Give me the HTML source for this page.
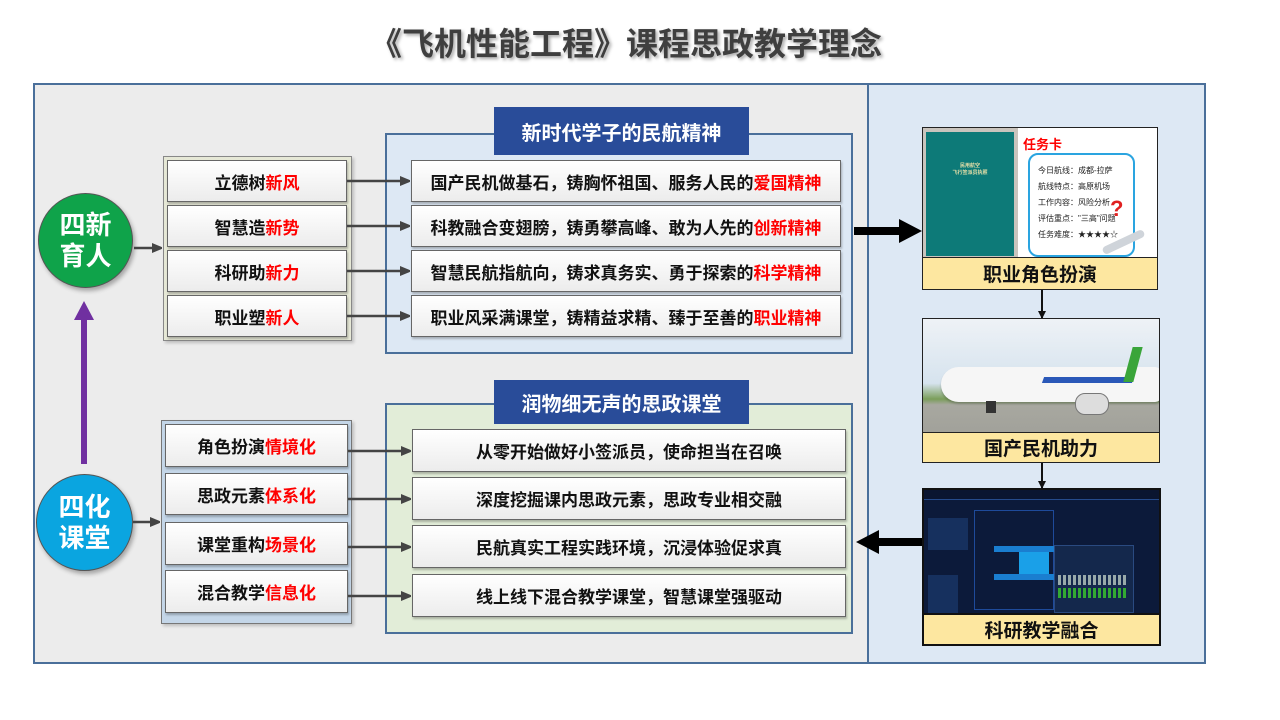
<!DOCTYPE html>
<html><head><meta charset="utf-8"><style>
*{margin:0;padding:0;box-sizing:border-box}
body{width:1280px;height:720px;background:#fff;position:relative;overflow:hidden;font-family:"Liberation Sans","Noto Sans CJK SC",sans-serif;font-weight:bold}
.a{position:absolute}
.title{left:0;width:1252px;top:19px;text-align:center;font-size:32px;color:#3f3f3f;text-shadow:2px 2px 3px #aaa}
.it{position:absolute;background:linear-gradient(#fff,#ececec);border:1px solid #666;box-shadow:1px 2px 2px rgba(0,0,0,.25);display:flex;align-items:center;justify-content:center;font-size:17px;color:#111}
.r{color:#f00}
.hd{position:absolute;background:#294c99;color:#fff;font-size:20px;display:flex;align-items:center;justify-content:center}
.cap{position:absolute;left:0;right:0;bottom:0;background:#fde7a0;border-top:1px solid #222;display:flex;align-items:center;justify-content:center;font-size:19px;color:#111}
.circ{position:absolute;border-radius:50%;border:1px solid #555;color:#fff;font-size:26px;line-height:31px;text-align:center;display:flex;align-items:center;justify-content:center;box-shadow:2px 3px 4px rgba(0,0,0,.3)}
</style></head><body>
<div class="a title">《飞机性能工程》课程思政教学理念</div>
<div class="a" style="left:33px;top:83px;width:836px;height:581px;background:#ececec;border:2px solid #4a6f9a"></div>
<div class="a" style="left:867px;top:83px;width:339px;height:581px;background:#dde8f4;border:2px solid #4a6f9a"></div>

<div class="a" style="left:163px;top:156px;width:189px;height:185px;background:#e6e8d6;border:1px solid #888;box-shadow:2px 2px 3px rgba(0,0,0,.2)"></div>
<div class="it" style="left:167px;top:160px;width:180px;height:42px">立德树<span class="r">新风</span></div>
<div class="it" style="left:167px;top:205px;width:180px;height:42px">智慧造<span class="r">新势</span></div>
<div class="it" style="left:167px;top:250px;width:180px;height:42px">科研助<span class="r">新力</span></div>
<div class="it" style="left:167px;top:295px;width:180px;height:42px">职业塑<span class="r">新人</span></div>

<div class="a" style="left:385px;top:133px;width:468px;height:221px;background:#dde8f4;border:2px solid #4a6f9a"></div>
<div class="hd" style="left:494px;top:107px;width:255px;height:48px">新时代学子的民航精神</div>
<div class="it" style="left:411px;top:160px;width:430px;height:42px">国产民机做基石，铸胸怀祖国、服务人民的<span class="r">爱国精神</span></div>
<div class="it" style="left:411px;top:205px;width:430px;height:42px">科教融合变翅膀，铸勇攀高峰、敢为人先的<span class="r">创新精神</span></div>
<div class="it" style="left:411px;top:250px;width:430px;height:42px">智慧民航指航向，铸求真务实、勇于探索的<span class="r">科学精神</span></div>
<div class="it" style="left:411px;top:295px;width:430px;height:42px">职业风采满课堂，铸精益求精、臻于至善的<span class="r">职业精神</span></div>

<div class="a" style="left:161px;top:420px;width:191px;height:204px;background:#c4d6e8;border:1px solid #777;box-shadow:2px 2px 3px rgba(0,0,0,.2)"></div>
<div class="it" style="left:165px;top:424px;width:183px;height:43px">角色扮演<span class="r">情境化</span></div>
<div class="it" style="left:165px;top:473px;width:183px;height:42px">思政元素<span class="r">体系化</span></div>
<div class="it" style="left:165px;top:522px;width:183px;height:43px">课堂重构<span class="r">场景化</span></div>
<div class="it" style="left:165px;top:570px;width:183px;height:43px">混合教学<span class="r">信息化</span></div>

<div class="a" style="left:385px;top:403px;width:468px;height:231px;background:#e2edd8;border:2px solid #4a6f9a"></div>
<div class="hd" style="left:494px;top:380px;width:255px;height:44px">润物细无声的思政课堂</div>
<div class="it" style="left:412px;top:429px;width:434px;height:43px">从零开始做好小签派员，使命担当在召唤</div>
<div class="it" style="left:412px;top:477px;width:434px;height:43px">深度挖掘课内思政元素，思政专业相交融</div>
<div class="it" style="left:412px;top:525px;width:434px;height:43px">民航真实工程实践环境，沉浸体验促求真</div>
<div class="it" style="left:412px;top:574px;width:434px;height:43px">线上线下混合教学课堂，智慧课堂强驱动</div>

<div class="circ" style="left:38px;top:193px;width:95px;height:95px;background:#0fa34a">四新<br>育人</div>
<div class="circ" style="left:36px;top:474px;width:97px;height:97px;background:#0aa5e0">四化<br>课堂</div>

<svg class="a" style="left:0;top:0" width="1280" height="720">
<defs>
<marker id="m" markerWidth="10" markerHeight="10" refX="9" refY="5" orient="auto" markerUnits="userSpaceOnUse"><path d="M0,0 L12,5 L0,10z" fill="#444"/></marker>
<marker id="k" markerWidth="8" markerHeight="8" refX="7" refY="4" orient="auto" markerUnits="userSpaceOnUse"><path d="M0,0 L8,4 L0,8z" fill="#111"/></marker>
</defs>
<g stroke="#444" stroke-width="2.5" marker-end="url(#m)">
<line x1="134" y1="248" x2="161" y2="248"/>
<line x1="133" y1="522" x2="159" y2="522"/>
<line x1="347" y1="181" x2="409" y2="181"/>
<line x1="347" y1="226" x2="409" y2="226"/>
<line x1="347" y1="271" x2="409" y2="271"/>
<line x1="347" y1="316" x2="409" y2="316"/>
<line x1="348" y1="451" x2="410" y2="451"/>
<line x1="348" y1="499" x2="410" y2="499"/>
<line x1="348" y1="547" x2="410" y2="547"/>
<line x1="348" y1="596" x2="410" y2="596"/>
</g>
<line x1="84" y1="464" x2="84" y2="318" stroke="#7030a0" stroke-width="6"/>
<path d="M74,320 L84,301 L94,320z" fill="#7030a0"/>
<path d="M854,227 L899,227 L899,219 L922,231 L899,243 L899,235 L854,235z" fill="#000"/>
<path d="M922,538 L879,538 L879,530 L856,542 L879,554 L879,546 L922,546z" fill="#000"/>
<g stroke="#111" stroke-width="2" marker-end="url(#k)">
<line x1="1042" y1="290" x2="1042" y2="318"/>
<line x1="1042" y1="462" x2="1042" y2="488"/>
</g>
</svg>

<div class="a" style="left:922px;top:127px;width:236px;height:163px;border:1px solid #222;background:#fff;overflow:hidden">
 <div class="a" style="left:0;top:0;width:95px;height:131px;background:#c9c4bd"></div>
 <div class="a" style="left:3px;top:4px;width:88px;height:124px;background:#0d7a78;color:#e8e0a8;font-size:5px;text-align:center;padding-top:30px">民用航空<br>飞行签派员执照</div>
 <div class="a" style="left:96px;top:0;width:140px;height:131px;background:#fff"></div>
 <div class="a" style="left:100px;top:6px;color:#f00;font-size:13px">任务卡</div>
 <div class="a" style="left:105px;top:25px;width:107px;height:104px;border:2px solid #2aa4e0;border-radius:10px;font-size:8px;font-weight:normal;color:#222;line-height:16px;padding:8px 0 0 8px">今日航线：成都-拉萨<br>航线特点：高原机场<br>工作内容：风险分析<br>评估重点："三高"问题<br>任务难度：★★★★☆</div>
 <div class="a" style="left:187px;top:68px;color:#e02020;font-size:22px">?</div>
 <div class="a" style="left:178px;top:110px;width:45px;height:8px;background:#cfd4da;border-radius:4px;transform:rotate(-25deg)"></div>
 <div class="cap" style="height:32px">职业角色扮演</div>
</div>

<div class="a" style="left:922px;top:318px;width:238px;height:145px;border:1px solid #222;overflow:hidden;background:linear-gradient(#eef2f6 0%,#d6e3ee 45%,#7a9e5a 56%,#a8a8a0 60%,#9a9a94 100%)">
 <div class="a" style="left:18px;top:48px;width:220px;height:35px;background:#f6f6f6;border-radius:18px 6px 6px 18px;box-shadow:0 2px 2px rgba(0,0,0,.2)"></div>
 <div class="a" style="left:120px;top:58px;width:90px;height:6px;background:#2a58b8;transform:skewX(-20deg)"></div>
 <div class="a" style="left:205px;top:28px;width:10px;height:35px;background:#3aa53a;transform:skewX(-15deg)"></div>
 <div class="a" style="left:152px;top:74px;width:34px;height:22px;background:#ddd;border-radius:10px;border:1px solid #777"></div>
 <div class="a" style="left:63px;top:82px;width:10px;height:12px;background:#333"></div>
 <div class="cap" style="height:30px">国产民机助力</div>
</div>

<div class="a" style="left:922px;top:488px;width:239px;height:158px;border:2px solid #111;overflow:hidden;background:#0c1a3a">
 <div class="a" style="left:0;top:0;width:239px;height:10px;background:#0a1530;border-bottom:1px solid #254a8a"></div>
 <div class="a" style="left:4px;top:28px;width:40px;height:32px;background:#16305e"></div>
 <div class="a" style="left:4px;top:85px;width:30px;height:40px;background:#16305e"></div>
 <div class="a" style="left:50px;top:20px;width:80px;height:100px;border:1px solid #1e4a9a"></div>
 <div class="a" style="left:95px;top:60px;width:30px;height:25px;background:#1aa0e8"></div>
 <div class="a" style="left:70px;top:56px;width:60px;height:6px;background:#1a7ed0"></div>
 <div class="a" style="left:70px;top:84px;width:60px;height:6px;background:#1a7ed0"></div>
 <div class="a" style="left:130px;top:55px;width:80px;height:68px;background:#14284c;border:1px solid #2a4a80"></div>
 <div class="a" style="left:134px;top:85px;width:70px;height:10px;background:repeating-linear-gradient(90deg,#9aa 0 3px,#14284c 3px 5px)"></div>
 <div class="a" style="left:134px;top:98px;width:70px;height:10px;background:repeating-linear-gradient(90deg,#3a3 0 3px,#14284c 3px 5px)"></div>
 <div class="cap" style="height:31px;border-top:2px solid #111">科研教学融合</div>
</div>
</body></html>
